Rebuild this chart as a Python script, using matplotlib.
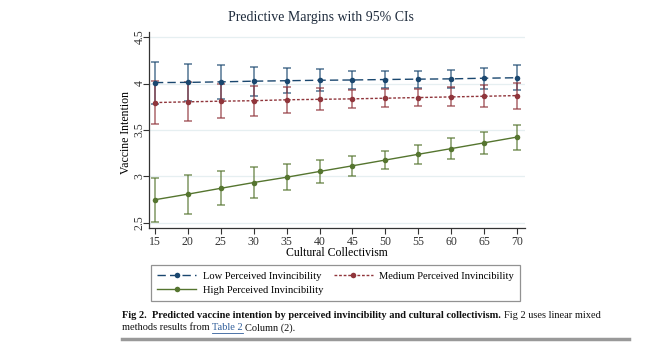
import matplotlib
matplotlib.use("Agg")
import matplotlib.pyplot as plt
from matplotlib.lines import Line2D

plt.rcParams['font.family'] = ['Liberation Serif', 'DejaVu Serif']

x = [15, 20, 25, 30, 35, 40, 45, 50, 55, 60, 65, 70]
low = [4.01, 4.012, 4.018, 4.025, 4.03, 4.035, 4.038, 4.043, 4.047, 4.05, 4.057, 4.062]
low_ci = [0.225, 0.2, 0.18, 0.155, 0.135, 0.118, 0.1, 0.092, 0.09, 0.1, 0.115, 0.135]
med = [3.795, 3.803, 3.81, 3.815, 3.825, 3.83, 3.835, 3.842, 3.849, 3.856, 3.863, 3.87]
med_ci = [0.235, 0.21, 0.185, 0.16, 0.14, 0.117, 0.1, 0.095, 0.095, 0.103, 0.12, 0.14]
high = [2.75, 2.81, 2.873, 2.935, 2.992, 3.054, 3.115, 3.177, 3.239, 3.30, 3.362, 3.424]
high_ci = [0.236, 0.21, 0.185, 0.163, 0.14, 0.12, 0.108, 0.097, 0.1, 0.11, 0.12, 0.135]

yticks = [2.5, 3, 3.5, 4, 4.5]
ytick_labels = ["2.5", "3", "3.5", "4", "4.5"]

title = "Predictive Margins with 95% CIs"
xlabel = "Cultural Collectivism"
ylabel = "Vaccine Intention"
labels = ["Low Perceived Invincibility", "Medium Perceived Invincibility", "High Perceived Invincibility"]

c_low = "#1a476f"
c_med = "#90353b"
c_high = "#55752f"

W, H = 671, 344
fig = plt.figure(figsize=(W / 100, H / 100), dpi=100)
ax = fig.add_axes([149 / W, 1 - 228 / H, 376 / W, 196 / H])

for yv in yticks:
    ax.axhline(yv, color="#e6eff1", lw=0.9, zorder=0)

series = [(low, low_ci, c_low, (0, (6, 3))),
          (med, med_ci, c_med, (0, (2, 1.3))),
          (high, high_ci, c_high, "-")]
for vals, ci, col, ls in series:
    ax.errorbar(x, vals, yerr=ci, fmt="none", ecolor=col, elinewidth=1.1,
                capsize=2.8, capthick=1.1, alpha=0.75, zorder=2)
    ax.plot(x, vals, color=col, ls=ls, lw=1.0, marker="o", ms=4,
            markeredgewidth=0, zorder=3)

ax.set_xlim(14.1, 71.2)
ax.set_ylim(2.446, 4.554)
ax.set_xticks(x)
ax.set_xticklabels([str(v) for v in x], fontsize=8.5, color="#333333")
ax.set_yticks(yticks)
ax.set_yticklabels(ytick_labels, fontsize=8.5, rotation=90, va="center", color="#333333")
ax.tick_params(axis="both", length=4, width=0.8, color="#333333")
ax.tick_params(axis="x", pad=2)
ax.tick_params(axis="y", pad=-1.5)
for s in ["top", "right"]:
    ax.spines[s].set_visible(False)
for s in ["left", "bottom"]:
    ax.spines[s].set_color("#333333")
    ax.spines[s].set_linewidth(0.9)

fig.text(321 / W, 1 - 18 / H, title, ha="center", va="center", fontsize=10, color="#1e2b3c")
fig.text(337 / W, 1 - 253 / H, xlabel, ha="center", va="center", fontsize=8.5)
fig.text(126 / W, 1 - 132 / H, ylabel, ha="center", va="center", fontsize=8.5, rotation=90)

h_low = Line2D([], [], color=c_low, ls=(0, (6, 3)), lw=1.0, marker="o", ms=4, mew=0)
h_med = Line2D([], [], color=c_med, ls=(0, (2, 1.3)), lw=1.0, marker="o", ms=4, mew=0)
h_high = Line2D([], [], color=c_high, ls="-", lw=1.0, marker="o", ms=4, mew=0)
leg = fig.legend([h_low, h_high, h_med], [labels[0], labels[2], labels[1]],
                 ncol=2, loc="lower left", mode="expand",
                 bbox_to_anchor=(151 / W, 1 - 301 / H, 369 / W, 37 / H),
                 fontsize=7.6, frameon=True, fancybox=False, edgecolor="#777777",
                 handlelength=3.7, handletextpad=0.6, borderaxespad=0,
                 borderpad=0.6, labelspacing=0.45, columnspacing=1.0)
leg.get_frame().set_linewidth(0.9)

# caption
fig.canvas.draw()
r = fig.canvas.get_renderer()
cx = 122 / W
y1 = 1 - 316 / H
y2 = 1 - 328 / H
t1 = fig.text(cx, y1, "Fig 2.  Predicted vaccine intention by perceived invincibility and cultural collectivism.",
              fontsize=7.5, fontweight="bold", ha="left", va="center", color="#111111")
bb = t1.get_window_extent(r)
fig.text(bb.x1 / W + 3 / W, y1, "Fig 2 uses linear mixed", fontsize=7.5, ha="left", va="center", color="#111111")
t2 = fig.text(cx, y2, "methods results from ", fontsize=7.5, ha="left", va="center", color="#111111")
bb2 = t2.get_window_extent(r)
t3 = fig.text(bb2.x1 / W, y2, "Table 2", fontsize=7.5, ha="left", va="center", color="#2f5d9a")
bb3 = t3.get_window_extent(r)
fig.add_artist(Line2D([bb3.x0 / W, bb3.x1 / W], [bb3.y0 / H, bb3.y0 / H], color="#2f5d9a", lw=0.6))
fig.text(bb3.x1 / W + 2 / W, y2, "Column (2).", fontsize=7.5, ha="left", va="center", color="#111111")
fig.add_artist(Line2D([122 / W, 629 / W], [1 - 339 / H, 1 - 339 / H], color="#999999", lw=2.5))

fig.savefig("out.png", dpi=100)
